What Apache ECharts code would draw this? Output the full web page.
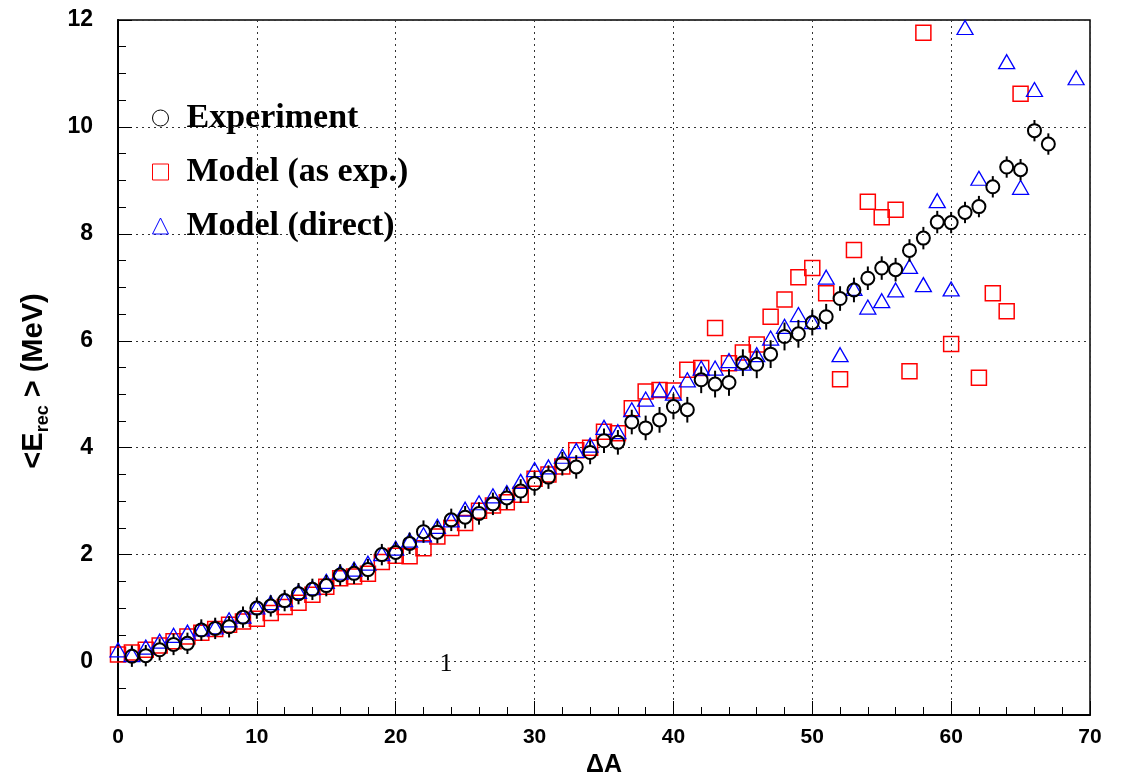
<!DOCTYPE html>
<html>
<head>
<meta charset="utf-8">
<script src="https://cdn.jsdelivr.net/npm/echarts@6/dist/echarts.min.js"></script>
<style>
  html, body { margin: 0; padding: 0; background: #fff; }
  #chart { width: 1122px; height: 783px; }
</style>
</head>
<body>
<div id="chart"></div>
<script>
// ΔA bins
const dA = [0, 1, 2, 3, 4, 5, 6, 7, 8, 9, 10, 11, 12, 13, 14, 15, 16, 17, 18, 19,
  20, 21, 22, 23, 24, 25, 26, 27, 28, 29, 30, 31, 32, 33, 34, 35, 36, 37, 38, 39,
  40, 41, 42, 43, 44, 45, 46, 47, 48, 49, 50, 51, 52, 53, 54, 55, 56, 57, 58, 59,
  60, 61, 62, 63, 64, 65, 66, 67, 68, 69];

// <E_rec> experiment (MeV)
const expE = [null, 0.10, 0.11, 0.22, 0.32, 0.34, 0.59, 0.62, 0.65, 0.83,
  1.00, 1.04, 1.14, 1.27, 1.35, 1.42, 1.62, 1.65, 1.72, 2.00,
  2.04, 2.21, 2.43, 2.42, 2.65, 2.70, 2.77, 2.95, 3.06, 3.19,
  3.33, 3.45, 3.70, 3.64, 3.91, 4.13, 4.10, 4.48, 4.37, 4.52,
  4.77, 4.71, 5.27, 5.19, 5.22, 5.59, 5.56, 5.75, 6.08, 6.13,
  6.34, 6.45, 6.79, 6.95, 7.17, 7.36, 7.33, 7.69, 7.92, 8.22,
  8.21, 8.40, 8.51, 8.88, 9.25, 9.20, 9.93, 9.68, null, null];

// experiment errors
const expErr = [null, 0.20, 0.20, 0.20, 0.20, 0.20, 0.20, 0.20, 0.20, 0.20,
  0.20, 0.20, 0.20, 0.20, 0.20, 0.20, 0.20, 0.20, 0.20, 0.20,
  0.20, 0.20, 0.21, 0.21, 0.21, 0.21, 0.21, 0.21, 0.21, 0.22,
  0.22, 0.22, 0.22, 0.22, 0.22, 0.23, 0.23, 0.23, 0.23, 0.24,
  0.24, 0.24, 0.25, 0.25, 0.25, 0.25, 0.26, 0.26, 0.26, 0.26,
  0.24, 0.24, 0.23, 0.23, 0.22, 0.22, 0.22, 0.21, 0.21, 0.21,
  0.20, 0.20, 0.20, 0.20, 0.20, 0.20, 0.20, 0.20, null, null];

// Model (as exp.)
const modelExpE = [0.13, 0.17, 0.22, 0.30, 0.38, 0.47, 0.54, 0.61, 0.69, 0.75,
  0.80, 0.91, 1.02, 1.10, 1.25, 1.40, 1.56, 1.59, 1.64, 1.86,
  1.98, 1.97, 2.12, 2.34, 2.50, 2.59, 2.82, 2.92, 2.98, 3.12,
  3.42, 3.50, 3.65, 3.95, 4.00, 4.30, 4.27, 4.74, 5.05, 5.08,
  5.07, 5.46, 5.49, 6.24, 5.58, 5.78, 5.93, 6.45, 6.77, 7.19,
  7.36, 6.89, 5.28, 7.70, 8.60, 8.31, 8.45, 5.43, 11.76, null,
  5.94, null, 5.31, 6.89, 6.55, 10.62, null, null, null, null];

// Model (direct)
const modelDirE = [0.22, 0.13, 0.27, 0.38, 0.49, 0.55, 0.61, 0.65, 0.78, 0.85,
  1.02, 1.10, 1.16, 1.31, 1.38, 1.50, 1.67, 1.73, 1.84, 2.02,
  2.12, 2.27, 2.37, 2.53, 2.65, 2.85, 2.97, 3.10, 3.16, 3.37,
  3.59, 3.64, 3.84, 3.95, 4.05, 4.38, 4.30, 4.71, 4.91, 5.08,
  5.02, 5.27, 5.49, 5.49, 5.63, 5.58, 5.74, 6.05, 6.27, 6.49,
  6.36, 7.19, 5.74, 6.98, 6.63, 6.75, 6.95, 7.39, 7.05, 8.62,
  6.97, 11.86, 9.04, null, 11.22, 8.87, 10.70, null, null, 10.92];

const yTicks = [0, 2, 4, 6, 8, 10, 12];

function pairs(vals) {
  const out = [];
  dA.forEach((a, i) => { if (vals[i] != null) out.push([a, vals[i]]); });
  return out;
}
const expData = [];
dA.forEach((a, i) => { if (expE[i] != null) expData.push([a, expE[i], expErr[i]]); });

const chart = echarts.init(document.getElementById('chart'));
const R = 6.5; // circle radius, error bars stop at it

const option = {
  animation: false,
  backgroundColor: '#fff',
  grid: {
    left: 118, right: 32, top: 20, bottom: 68,
    show: true, borderColor: '#000', borderWidth: 1.5, backgroundColor: 'transparent'
  },
  legend: {
    orient: 'vertical',
    left: 147, top: 96,
    itemWidth: 16, itemHeight: 16, itemGap: 20,
    selectedMode: false,
    textStyle: {
      fontFamily: 'Liberation Serif', fontWeight: 'bold', fontSize: 34,
      color: '#000', lineHeight: 34, padding: [0, 0, 0, 13]
    },
    data: [
      { name: 'Experiment', icon: 'circle', itemStyle: { color: 'rgba(0,0,0,0)', borderColor: '#000', borderWidth: 1 } },
      { name: 'Model (as exp.)', icon: 'rect', itemStyle: { color: 'rgba(0,0,0,0)', borderColor: '#ff0000', borderWidth: 1 } },
      { name: 'Model (direct)', icon: 'triangle', itemStyle: { color: 'rgba(0,0,0,0)', borderColor: '#0000ff', borderWidth: 1 } }
    ]
  },
  xAxis: {
    type: 'value', min: 0, max: 70, interval: 10,
    name: 'ΔA', nameLocation: 'middle', nameGap: 35,
    nameTextStyle: { fontFamily: 'Liberation Sans', fontWeight: 'bold', fontSize: 25, color: '#000' },
    axisLine: { show: true, onZero: false, lineStyle: { color: '#000', width: 2 } },
    axisTick: { show: true, inside: true, length: 14, lineStyle: { color: '#000', width: 1 } },
    minorTick: { show: true, splitNumber: 5, length: 8, lineStyle: { color: '#000', width: 1 } },
    axisLabel: { fontFamily: 'Liberation Sans', fontWeight: 'bold', fontSize: 21, color: '#000', margin: 12 },
    splitLine: { show: true, lineStyle: { color: '#333', width: 1, type: [2, 4] } }
  },
  yAxis: [
    {
      type: 'value', min: -1, max: 12,
      axisLine: { show: true, onZero: false, lineStyle: { color: '#000', width: 2 } },
      axisTick: { show: true, inside: true, length: 14, customValues: yTicks, lineStyle: { color: '#000', width: 1 } },
      axisLabel: { customValues: yTicks, fontFamily: 'Liberation Sans', fontWeight: 'bold', fontSize: 23, color: '#000', margin: 25 },
      splitLine: { show: true, lineStyle: { color: '#333', width: 1, type: [2, 4] } }
    },
    {
      type: 'value', min: -1, max: 12, interval: 0.5, position: 'left',
      axisLine: { show: false },
      axisTick: { show: true, inside: true, length: 8, lineStyle: { color: '#000', width: 1 } },
      axisLabel: { show: false },
      splitLine: { show: false }
    }
  ],
  graphic: [
    {
      type: 'text', x: 34, y: 381, rotation: Math.PI / 2,
      style: {
        text: '{m|<E}{s|rec}{m| > (MeV)}',
        align: 'center', verticalAlign: 'middle', fill: '#000',
        rich: {
          m: { fontFamily: 'Liberation Sans', fontWeight: 'bold', fontSize: 29, lineHeight: 36, verticalAlign: 'middle' },
          s: { fontFamily: 'Liberation Sans', fontWeight: 'bold', fontSize: 18, lineHeight: 18, verticalAlign: 'bottom' }
        }
      }
    },
    {
      type: 'text', x: 446, y: 664,
      style: { text: '1', font: '26px "Liberation Serif"', fill: '#000', align: 'center', verticalAlign: 'middle' }
    }
  ],
  series: [
    {
      name: 'Experiment errors',
      type: 'custom',
      silent: true,
      data: expData,
      encode: { x: 0, y: 1 },
      renderItem(params, api) {
        const x = api.value(0), y = api.value(1), e = api.value(2);
        const c = api.coord([x, y]);
        const hi = api.coord([x, y + e]);
        const lo = api.coord([x, y - e]);
        const st = { stroke: '#000', lineWidth: 2 };
        return {
          type: 'group',
          children: [
            { type: 'line', shape: { x1: c[0], y1: hi[1], x2: c[0], y2: c[1] - R }, style: st },
            { type: 'line', shape: { x1: c[0], y1: c[1] + R, x2: c[0], y2: lo[1] }, style: st }
          ]
        };
      },
      z: 3
    },
    {
      name: 'Model (as exp.)',
      type: 'scatter',
      symbol: 'rect', symbolSize: 15,
      silent: true,
      itemStyle: { color: 'rgba(0,0,0,0)', borderColor: '#ff0000', borderWidth: 1.5, opacity: 1 },
      data: pairs(modelExpE),
      z: 2
    },
    {
      name: 'Model (direct)',
      type: 'scatter',
      symbol: 'triangle', symbolSize: [16, 14],
      silent: true,
      itemStyle: { color: 'rgba(0,0,0,0)', borderColor: '#0000ff', borderWidth: 1.3, opacity: 1 },
      data: pairs(modelDirE),
      z: 2
    },
    {
      name: 'Experiment',
      type: 'scatter',
      symbol: 'circle', symbolSize: 13,
      silent: true,
      itemStyle: { color: 'rgba(0,0,0,0)', borderColor: '#000', borderWidth: 2, opacity: 1 },
      data: pairs(expE),
      z: 4
    }
  ]
};

chart.setOption(option);
window.addEventListener('resize', function () {
  chart.resize();
});
</script>
</body>
</html>
